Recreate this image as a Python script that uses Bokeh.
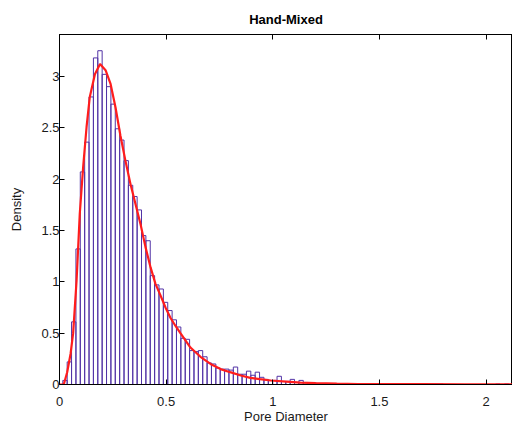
import numpy as np
from bokeh.plotting import figure
from bokeh.models import Range1d, FixedTicker, LinearAxis, ColumnDataSource
from bokeh.embed import file_html
from bokeh.resources import INLINE

# ---- data ----
title = "Hand-Mixed"
x_label = "Pore Diameter"
y_label = "Density"
x_ticks = [0, 0.5, 1, 1.5, 2]
y_ticks = [0, 0.5, 1, 1.5, 2, 2.5, 3]

bin_start = 0.0155
bin_width = 0.0205
density = [0.04,
           0.22, 0.61, 1.32, 2.07, 2.36, 2.80, 3.18, 3.25, 3.02, 2.90,
           2.73, 2.49, 2.38, 2.18, 1.94, 1.83, 1.70, 1.45, 1.40, 1.06,
           0.97, 0.93, 0.80, 0.72, 0.63, 0.56, 0.45, 0.44, 0.33, 0.32,
           0.33, 0.27, 0.21, 0.20, 0.16, 0.15, 0.15, 0.14, 0.17, 0.10,
           0.10, 0.13, 0.09, 0.12, 0.07, 0.05, 0.04, 0.04, 0.08, 0.03,
           0.03, 0.05, 0.02, 0.04, 0.02, 0.015, 0.015, 0.01, 0.01, 0.01,
           0.01, 0.01, 0.005, 0.005, 0.0, 0.005, 0.005, 0.005, 0.0, 0.0,
           0.0, 0.005, 0.0, 0.005, 0.0, 0.005, 0.005, 0.005, 0.0, 0.005,
           0.0, 0.0, 0.005, 0.005, 0.005, 0.005, 0.0, 0.0, 0.0, 0.0,
           0.0, 0.0, 0.0, 0.0, 0.0, 0.0, 0.0, 0.0, 0.005, 0.0,
           0.005]

kde_x = [0.0, 0.02, 0.036, 0.052, 0.064, 0.08, 0.095, 0.111, 0.127, 0.142,
         0.166, 0.19, 0.216, 0.239, 0.2625, 0.286, 0.309, 0.333, 0.356, 0.380,
         0.403, 0.427, 0.45, 0.473, 0.497, 0.52, 0.544, 0.567, 0.614, 0.661,
         0.708, 0.755, 0.80, 0.85, 0.895, 0.94, 0.99, 1.08, 1.13, 1.2,
         1.3, 1.4, 1.5, 1.7, 1.9, 2.124]
kde_y = [0.0, 0.0, 0.12, 0.30, 0.50, 1.01, 1.66, 2.12, 2.51, 2.80,
         3.02, 3.12, 3.06, 2.93, 2.70, 2.42, 2.18, 1.95, 1.76, 1.56,
         1.34, 1.14, 0.98, 0.87, 0.75, 0.65, 0.57, 0.50, 0.36, 0.27,
         0.20, 0.15, 0.12, 0.088, 0.065, 0.052, 0.039, 0.026, 0.018, 0.013,
         0.008, 0.005, 0.004, 0.003, 0.002, 0.002]

lefts = bin_start + bin_width * np.arange(len(density))
src = ColumnDataSource(dict(left=lefts, right=lefts + bin_width, top=density))

FONT = "Liberation Sans"
TXT = "#1a1a1a"

p = figure(width=512, height=428, output_backend="svg", toolbar_location=None,
           x_range=Range1d(0, 2.124), y_range=Range1d(0, 3.408),
           min_border_left=59, min_border_right=0, min_border_top=34,
           min_border_bottom=44, background_fill_color="white",
           border_fill_color="white")
p.grid.visible = False
p.outline_line_color = "black"

p.title.text = title
p.title.align = "center"
p.title.text_font = FONT
p.title.text_font_size = "13px"
p.title.text_font_style = "bold"
p.title.text_color = "black"
p.title.standoff = 16

p.quad(left="left", right="right", bottom=0, top="top", source=src,
       fill_color="white", fill_alpha=0.0, line_color="#5233a6", line_width=1)
p.line(kde_x, kde_y, line_color="#ff1c1c", line_width=2.2)

def style(ax, ticks):
    ax.ticker = FixedTicker(ticks=ticks)
    ax.major_tick_in = 5
    ax.major_tick_out = 0
    ax.minor_tick_line_color = None
    ax.axis_line_color = "black"
    ax.major_tick_line_color = "black"
    ax.major_label_text_font = FONT
    ax.major_label_text_font_size = "13px"
    ax.major_label_text_color = TXT
    ax.axis_label_text_font = FONT
    ax.axis_label_text_font_size = "13px"
    ax.axis_label_text_font_style = "normal"
    ax.axis_label_text_color = TXT

style(p.xaxis[0], x_ticks)
style(p.yaxis[0], y_ticks)
p.xaxis[0].axis_label = x_label
p.yaxis[0].axis_label = y_label
p.xaxis[0].major_label_standoff = 12
p.yaxis[0].major_label_standoff = 0
p.xaxis[0].axis_label_standoff = 0
p.yaxis[0].axis_label_standoff = 14

top_ax = LinearAxis()
style(top_ax, x_ticks)
top_ax.major_label_text_font_size = "2px"
top_ax.major_label_text_color = None
top_ax.major_label_standoff = 0
p.add_layout(top_ax, "above")

open("out.html", "w").write(file_html(p, INLINE))
